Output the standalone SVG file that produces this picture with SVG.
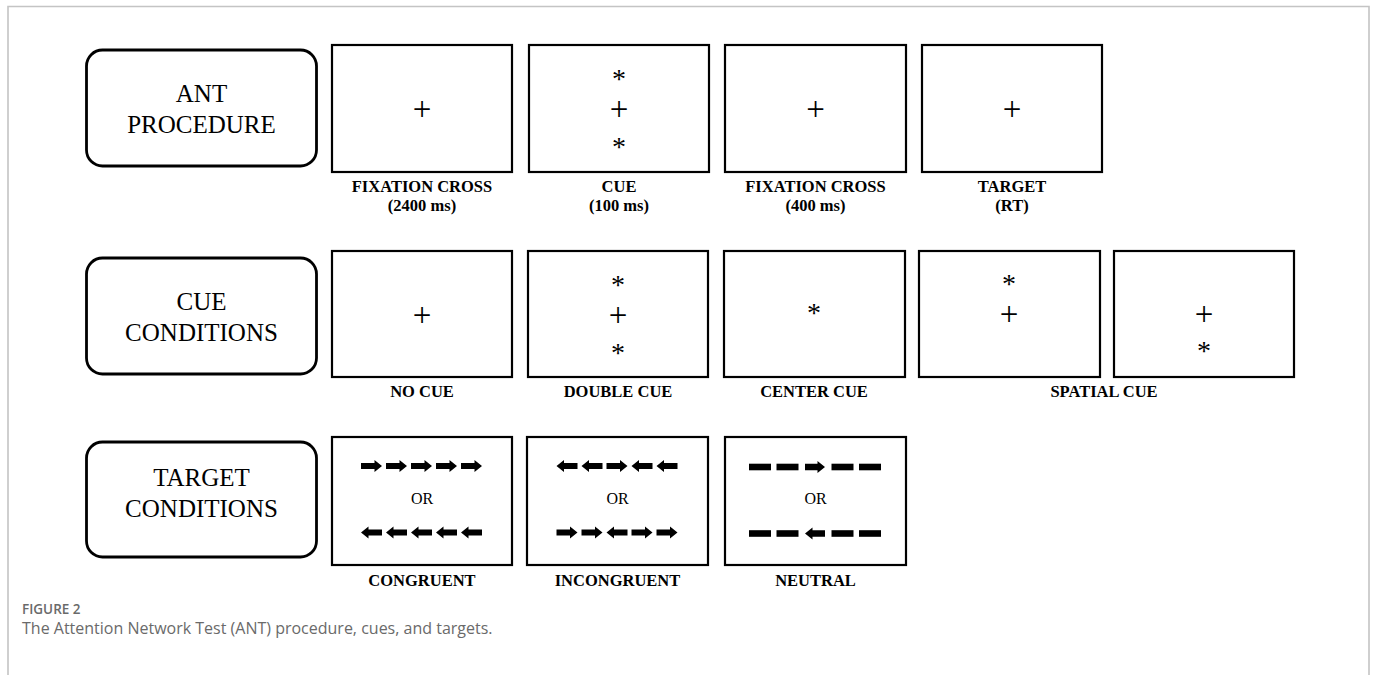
<svg xmlns="http://www.w3.org/2000/svg" width="1375" height="675" viewBox="0 0 1375 675">
<style>
  .frame { fill: none; stroke: #c4c4c4; stroke-width: 1.6; }
  .head { fill: #fff; stroke: #000; stroke-width: 2.8; }
  .box { fill: #fff; stroke: #000; stroke-width: 2.2; }
  .ht { font-family: "Liberation Serif", "Times New Roman", serif; font-size: 25px; fill: #000; text-anchor: middle; }
  .sym { font-family: "Liberation Serif", "Times New Roman", serif; font-size: 28px; fill: #000; text-anchor: middle; }
  .plus { font-family: "Liberation Serif", "Times New Roman", serif; font-size: 33px; fill: #000; text-anchor: middle; }
  .or { font-family: "Liberation Serif", "Times New Roman", serif; font-size: 16px; fill: #000; text-anchor: middle; }
  .lbl { font-family: "Liberation Serif", "Times New Roman", serif; font-size: 16.5px; font-weight: bold; fill: #000; text-anchor: middle; }
  .fig { font-family: "Open Sans", "Noto Sans", sans-serif; font-size: 13.5px; font-weight: 600; fill: #6a6a6a; }
  .cap { font-family: "Open Sans", "Noto Sans", sans-serif; font-size: 16px; fill: #6a6a6a; }
</style>
<defs>
  <path id="ar" d="M-10.5,-2.9 H3 V-5.9 L10.5,0 L3,5.9 V2.9 H-10.5 Z" fill="#000"/>
  <path id="al" d="M10.5,-2.9 H-3 V-5.9 L-10.5,0 L-3,5.9 V2.9 H10.5 Z" fill="#000"/>
  <path id="nr" d="M-10,-3.3 H2.5 V-6 L10,0 L2.5,6 V3.3 H-10 Z" fill="#000"/>
  <path id="nl" d="M10,-3.3 H-2.5 V-6 L-10,0 L-2.5,6 V3.3 H10 Z" fill="#000"/>
  <rect id="dash" x="-11" y="-3.3" width="22" height="6.6" fill="#000"/>
</defs>
<rect width="1375" height="675" fill="#fff"/>
<path class="frame" d="M8,675 V6.5 H1369 V675"/>

<!-- Row 1 -->
<g id="ant-procedure">
  <rect class="head" x="86.5" y="50" width="230" height="116" rx="16"/>
  <text class="ht" x="201.5" y="102">ANT</text>
  <text class="ht" x="201.5" y="133">PROCEDURE</text>
</g>
<g id="fixation-2400">
  <rect class="box" x="332" y="45" width="180" height="127"/>
  <text class="plus" x="422" y="120">+</text>
  <text class="lbl" x="422" y="192">FIXATION CROSS</text>
  <text class="lbl" x="422" y="211">(2400 ms)</text>
</g>
<g id="cue-100">
  <rect class="box" x="529" y="45" width="180" height="127"/>
  <text class="sym" x="619" y="88">*</text>
  <text class="plus" x="619" y="120">+</text>
  <text class="sym" x="619" y="156">*</text>
  <text class="lbl" x="619" y="192">CUE</text>
  <text class="lbl" x="619" y="211">(100 ms)</text>
</g>
<g id="fixation-400">
  <rect class="box" x="725" y="45" width="181" height="127"/>
  <text class="plus" x="815.5" y="120">+</text>
  <text class="lbl" x="815.5" y="192">FIXATION CROSS</text>
  <text class="lbl" x="815.5" y="211">(400 ms)</text>
</g>
<g id="target-rt">
  <rect class="box" x="922" y="45" width="180" height="127"/>
  <text class="plus" x="1012" y="120">+</text>
  <text class="lbl" x="1012" y="192">TARGET</text>
  <text class="lbl" x="1012" y="211">(RT)</text>
</g>

<!-- Row 2 -->
<g id="cue-conditions">
  <rect class="head" x="86.5" y="258" width="230" height="116" rx="16"/>
  <text class="ht" x="201.5" y="310">CUE</text>
  <text class="ht" x="201.5" y="341">CONDITIONS</text>
</g>
<g id="no-cue">
  <rect class="box" x="332" y="251" width="180" height="126"/>
  <text class="plus" x="422" y="325.5">+</text>
  <text class="lbl" x="422" y="397">NO CUE</text>
</g>
<g id="double-cue">
  <rect class="box" x="528" y="251" width="180" height="126"/>
  <text class="sym" x="618" y="294">*</text>
  <text class="plus" x="618" y="325.5">+</text>
  <text class="sym" x="618" y="362">*</text>
  <text class="lbl" x="618" y="397">DOUBLE CUE</text>
</g>
<g id="center-cue">
  <rect class="box" x="724" y="251" width="181" height="126"/>
  <text class="sym" x="814" y="322">*</text>
  <text class="lbl" x="814" y="397">CENTER CUE</text>
</g>
<g id="spatial-cue">
  <rect class="box" x="919" y="251" width="181" height="126"/>
  <text class="sym" x="1009" y="293">*</text>
  <text class="plus" x="1009" y="325">+</text>
  <rect class="box" x="1114" y="251" width="180" height="126"/>
  <text class="plus" x="1204" y="325">+</text>
  <text class="sym" x="1204" y="360">*</text>
  <text class="lbl" x="1104" y="397">SPATIAL CUE</text>
</g>

<!-- Row 3 -->
<g id="target-conditions">
  <rect class="head" x="86.5" y="442" width="230" height="115" rx="16"/>
  <text class="ht" x="201.5" y="486">TARGET</text>
  <text class="ht" x="201.5" y="517">CONDITIONS</text>
</g>
<g id="congruent">
  <rect class="box" x="332" y="437" width="180" height="128"/>
  <use href="#ar" x="371.5" y="466"/><use href="#ar" x="396.5" y="466"/><use href="#ar" x="421.5" y="466"/><use href="#ar" x="446.5" y="466"/><use href="#ar" x="471.5" y="466"/>
  <text class="or" x="422" y="504">OR</text>
  <use href="#al" x="371.5" y="532.5"/><use href="#al" x="396.5" y="532.5"/><use href="#al" x="421.5" y="532.5"/><use href="#al" x="446.5" y="532.5"/><use href="#al" x="471.5" y="532.5"/>
  <text class="lbl" x="422" y="586">CONGRUENT</text>
</g>
<g id="incongruent">
  <rect class="box" x="527" y="437" width="181" height="128"/>
  <use href="#al" x="567" y="466"/><use href="#al" x="592" y="466"/><use href="#ar" x="617" y="466"/><use href="#al" x="642" y="466"/><use href="#al" x="667" y="466"/>
  <text class="or" x="617.5" y="504">OR</text>
  <use href="#ar" x="567" y="532.5"/><use href="#ar" x="592" y="532.5"/><use href="#al" x="617" y="532.5"/><use href="#ar" x="642" y="532.5"/><use href="#ar" x="667" y="532.5"/>
  <text class="lbl" x="617.5" y="586">INCONGRUENT</text>
</g>
<g id="neutral">
  <rect class="box" x="725" y="437" width="181" height="128"/>
  <use href="#dash" x="760" y="467"/><use href="#dash" x="787.5" y="467"/><use href="#nr" x="815" y="467"/><use href="#dash" x="842.5" y="467"/><use href="#dash" x="870" y="467"/>
  <text class="or" x="815.5" y="504">OR</text>
  <use href="#dash" x="760" y="533.5"/><use href="#dash" x="787.5" y="533.5"/><use href="#nl" x="815" y="533.5"/><use href="#dash" x="842.5" y="533.5"/><use href="#dash" x="870" y="533.5"/>
  <text class="lbl" x="815.5" y="586">NEUTRAL</text>
</g>

<g id="connectors"/>

<g id="caption">
  <text class="fig" x="22" y="614">FIGURE 2</text>
  <text class="cap" x="22" y="634">The Attention Network Test (ANT) procedure, cues, and targets.</text>
</g>
</svg>
